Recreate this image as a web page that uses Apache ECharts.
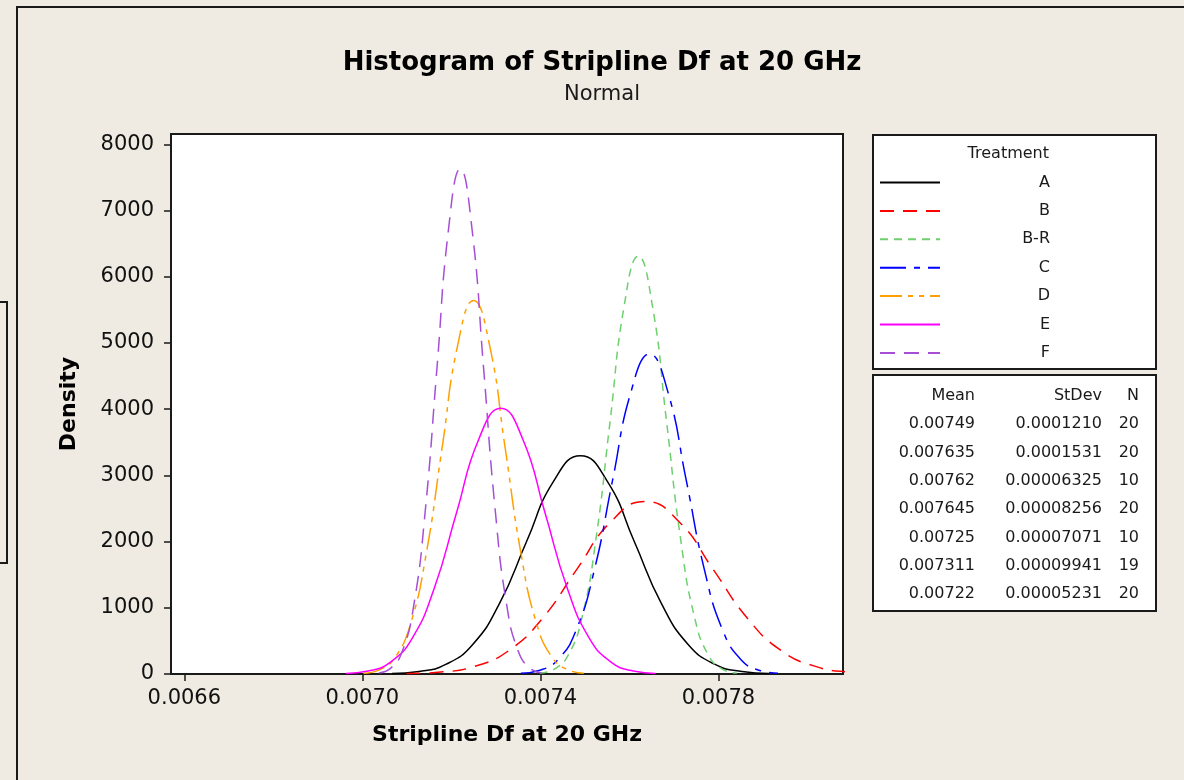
<!DOCTYPE html>
<html>
<head>
<meta charset="utf-8">
<script src="https://cdn.jsdelivr.net/npm/echarts@6/dist/echarts.min.js"></script>
<style>
html, body { margin: 0; padding: 0; background: #efebe2; }
#chart { width: 1184px; height: 780px; }
</style>
</head>
<body>
<div id="chart"></div>
<script>
// fitted normal curves
const treatments = ['A', 'B', 'B-R', 'C', 'D', 'E', 'F'];

const xA = [0.0070665, 0.007127, 0.0071875, 0.007248, 0.0073085, 0.007369, 0.0074295, 0.00749, 0.0075505, 0.007611, 0.0076715, 0.007732, 0.0077925, 0.007853, 0.0079135];
const yA = [7, 37, 145, 446, 1070, 2000, 2910, 3297, 2910, 2000, 1070, 446, 145, 37, 7];

const xB = [0.0070992, 0.0071757, 0.0072523, 0.0073288, 0.0074054, 0.0074819, 0.0075585, 0.007635, 0.0077116, 0.0077881, 0.0078647, 0.0079412, 0.0080178, 0.0080943, 0.0081709];
const yB = [6, 29, 115, 353, 846, 1581, 2300, 2606, 2300, 1581, 846, 353, 115, 29, 6];

const xBR = [0.0073986, 0.0074303, 0.0074619, 0.0074935, 0.0075251, 0.0075568, 0.0075884, 0.00762, 0.0076516, 0.0076833, 0.0077149, 0.0077465, 0.0077781, 0.0078098, 0.0078414];
const yBR = [14, 70, 277, 854, 2048, 3825, 5566, 6307, 5566, 3825, 2048, 854, 277, 70, 14];

const xC = [0.007356, 0.0073973, 0.0074386, 0.0074799, 0.0075212, 0.0075624, 0.0076037, 0.007645, 0.0076863, 0.0077276, 0.0077688, 0.0078101, 0.0078514, 0.0078927, 0.007934];
const yC = [11, 54, 212, 654, 1569, 2931, 4264, 4832, 4264, 2931, 1569, 654, 212, 54, 11];

const xD = [0.0070025, 0.0070379, 0.0070732, 0.0071086, 0.0071439, 0.0071793, 0.0072146, 0.00725, 0.0072854, 0.0073207, 0.0073561, 0.0073914, 0.0074268, 0.0074621, 0.0074975];
const yD = [12, 63, 248, 764, 1832, 3422, 4979, 5642, 4979, 3422, 1832, 764, 248, 63, 12];

const xE = [0.0069631, 0.0070128, 0.0070625, 0.0071122, 0.0071619, 0.0072116, 0.0072613, 0.007311, 0.0073607, 0.0074104, 0.0074601, 0.0075098, 0.0075595, 0.0076092, 0.0076589];
const yE = [9, 45, 176, 543, 1303, 2434, 3542, 4013, 3542, 2434, 1303, 543, 176, 45, 9];

const xF = [0.0070369, 0.0070631, 0.0070892, 0.0071154, 0.0071415, 0.0071677, 0.0071938, 0.00722, 0.0072462, 0.0072723, 0.0072985, 0.0073246, 0.0073508, 0.0073769, 0.0074031];
const yF = [17, 85, 335, 1032, 2476, 4626, 6731, 7627, 6731, 4626, 2476, 1032, 335, 85, 17];

const xTicks = [0.0066, 0.0070, 0.0074, 0.0078];
const yTicks = [0, 1000, 2000, 3000, 4000, 5000, 6000, 7000, 8000];

// summary table
const statMean = ['0.00749', '0.007635', '0.00762', '0.007645', '0.00725', '0.007311', '0.00722'];
const statStDev = ['0.0001210', '0.0001531', '0.00006325', '0.00008256', '0.00007071', '0.00009941', '0.00005231'];
const statN = ['20', '20', '10', '20', '10', '19', '20'];

const FONT = 'DejaVu Sans';
const INK = '#1a1a1a';

const curveX = [xA, xB, xBR, xC, xD, xE, xF];
const curveY = [yA, yB, yBR, yC, yD, yE, yF];
const colors = ['#000000', '#ff0000', '#6fcf6f', '#0000ff', '#ffa000', '#ff00ff', '#a64fd6'];
const dashes = ['solid', [14, 9], [8, 6], [26, 8, 6, 8], [22, 6, 5, 6, 5, 6], 'solid', [15, 9]];

const chart = echarts.init(document.getElementById('chart'));

const series = treatments.map((name, i) => ({
    name: name,
    type: 'line',
    smooth: true,
    symbol: 'none',
    showSymbol: false,
    data: curveX[i].map((x, j) => [x, curveY[i][j]]),
    lineStyle: { color: colors[i], width: 1.5, type: dashes[i] },
    itemStyle: { color: colors[i] }
}));

// stats table texts
const tableTexts = [];
const rowY0 = 396, rowStep = 28.3;
const header = [['Mean', 975], ['StDev', 1102], ['N', 1139]];
header.forEach(([t, x]) => {
    tableTexts.push({ type: 'text', x: x, y: rowY0, style: { text: t, font: '16px "' + FONT + '"', fill: INK, align: 'right', verticalAlign: 'middle' } });
});
statMean.forEach((m, i) => {
    const y = rowY0 + rowStep * (i + 1);
    [[m, 975], [statStDev[i], 1102], [statN[i], 1139]].forEach(([t, x]) => {
        tableTexts.push({ type: 'text', x: x, y: y, style: { text: t, font: '16px "' + FONT + '"', fill: INK, align: 'right', verticalAlign: 'middle' } });
    });
});

const option = {
    backgroundColor: '#efebe2',
    animation: false,
    title: {
        text: 'Histogram of Stripline Df at 20 GHz',
        subtext: 'Normal',
        left: 597,
        textAlign: 'center',
        top: 45,
        itemGap: 8,
        textStyle: { fontFamily: FONT, fontSize: 26, fontWeight: 'bold', color: '#000' },
        subtextStyle: { fontFamily: FONT, fontSize: 21, color: INK }
    },
    grid: {
        left: 171, top: 134, width: 672, height: 540,
        show: true, backgroundColor: '#ffffff', borderColor: INK, borderWidth: 2
    },
    legend: {
        data: treatments,
        orient: 'vertical',
        left: 874,
        top: 169.5,
        itemWidth: 60,
        itemHeight: 14,
        itemGap: 12.4,
        selectedMode: false,
        itemStyle: { opacity: 0 },
        formatter: name => '{n|' + name + '}',
        textStyle: {
            rich: { n: { width: 105, align: 'right', fontFamily: FONT, fontSize: 16, color: INK } }
        }
    },
    xAxis: {
        type: 'value',
        min: 0.00657,
        max: 0.00808,
        name: 'Stripline Df at 20 GHz',
        nameLocation: 'middle',
        nameGap: 50,
        nameTextStyle: { fontFamily: FONT, fontSize: 22, fontWeight: 'bold', color: '#000' },
        axisLine: { show: true, lineStyle: { color: INK, width: 2 } },
        axisTick: { show: true, customValues: xTicks, length: 7, lineStyle: { color: INK, width: 1.5 } },
        axisLabel: { customValues: xTicks, margin: 14, fontFamily: FONT, fontSize: 21, color: '#111',
            formatter: v => v.toFixed(4) },
        splitLine: { show: false }
    },
    yAxis: {
        type: 'value',
        min: 0,
        max: 8155,
        name: 'Density',
        nameLocation: 'middle',
        nameGap: 91,
        nameTextStyle: { fontFamily: FONT, fontSize: 22, fontWeight: 'bold', color: '#000' },
        axisLine: { show: true, lineStyle: { color: INK, width: 2 } },
        axisTick: { show: true, customValues: yTicks, length: 7, lineStyle: { color: INK, width: 1.5 } },
        axisLabel: { customValues: yTicks, margin: 17, fontFamily: FONT, fontSize: 21, color: '#111',
            formatter: v => String(v) },
        splitLine: { show: false }
    },
    graphic: [
        // outer frame
        { type: 'polyline', shape: { points: [[17, 800], [17, 7], [1200, 7]] }, style: { stroke: INK, lineWidth: 2, fill: null }, silent: true },
        // stray box at left edge
        { type: 'rect', shape: { x: -20, y: 302, width: 27, height: 261 }, style: { stroke: INK, lineWidth: 2, fill: '#efebe2' }, silent: true },
        // legend boxes
        { type: 'rect', shape: { x: 873, y: 135, width: 283, height: 234 }, style: { stroke: INK, lineWidth: 2, fill: '#ffffff' }, silent: true, z: -1 },
        { type: 'rect', shape: { x: 873, y: 375, width: 283, height: 236 }, style: { stroke: INK, lineWidth: 2, fill: '#ffffff' }, silent: true, z: -1 },
        { type: 'text', x: 1049, y: 154, style: { text: 'Treatment', font: '16px "' + FONT + '"', fill: INK, align: 'right', verticalAlign: 'middle' }, silent: true }
    ].concat(tableTexts),
    series: series
};

chart.setOption(option);
</script>
</body>
</html>
